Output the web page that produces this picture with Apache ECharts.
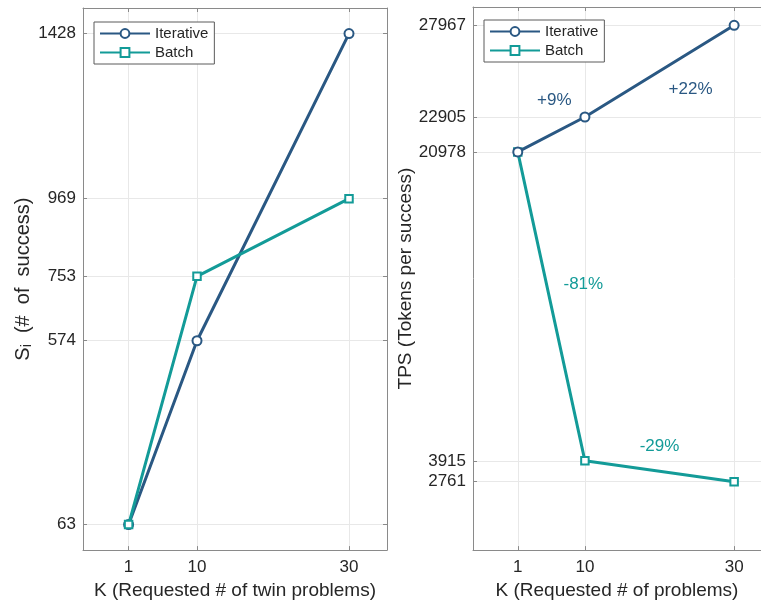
<!DOCTYPE html>
<html>
<head>
<meta charset="utf-8">
<script src="https://cdn.jsdelivr.net/npm/echarts@6/dist/echarts.min.js"></script>
<style>html,body{margin:0;padding:0;background:#fff;}#c{width:761px;height:605px;}</style>
</head>
<body>
<div id="c"></div>
<script>
// ---- data ----
const kValues = [1, 10, 30];
const successIterative = [63, 574, 1428];
const successBatch = [63, 753, 969];
const tpsIterative = [20978, 22905, 27967];
const tpsBatch = [20978, 3915, 2761];
const kTicks = [1, 10, 30];
const successTicks = [63, 574, 753, 969, 1428];
const tpsTicks = [2761, 3915, 20978, 22905, 27967];
const iterLabels = ['+9%', '+22%'];
const batchLabels = ['-81%', '-29%'];

const C_IT = '#2a5883';
const C_BA = '#139b98';
const FONT = 'Liberation Sans';
const FRAME = '#8a8a8a';
const TXT = '#262626';

function pairs(xs, ys) { return xs.map((x, i) => [x, ys[i]]); }
function mids(xs, ys) {
  const out = [];
  for (let i = 0; i < xs.length - 1; i++) out.push([(xs[i] + xs[i + 1]) / 2, (ys[i] + ys[i + 1]) / 2]);
  return out;
}
const plain = v => String(v);

function xAxes(grid, name, xmax) {
  return [{
    gridIndex: grid, type: 'value', min: -5, max: xmax, position: 'bottom',
    name: name, nameLocation: 'middle', nameGap: 30,
    nameTextStyle: { fontFamily: FONT, fontSize: 19, color: TXT },
    axisLine: { onZero: false, lineStyle: { color: FRAME, width: 1 } },
    axisTick: { inside: true, length: 4, customValues: kTicks, lineStyle: { color: FRAME } },
    axisLabel: { customValues: kTicks, formatter: plain, fontFamily: FONT, fontSize: 17, color: TXT, margin: 9 },
    splitLine: { show: true, lineStyle: { color: '#e8e8e8', width: 1 } }
  }, {
    gridIndex: grid, type: 'value', min: -5, max: xmax, position: 'top',
    axisLine: { onZero: false, lineStyle: { color: FRAME, width: 1 } },
    axisTick: { inside: true, length: 4, customValues: kTicks, lineStyle: { color: FRAME } },
    axisLabel: { show: false, customValues: kTicks },
    splitLine: { show: false }
  }];
}
function yAxes(grid, min, max, ticks, name, gap, showRight) {
  return [{
    gridIndex: grid, type: 'value', min: min, max: max, position: 'left',
    name: name, nameLocation: 'middle', nameGap: gap, nameRotate: 90,
    nameTextStyle: {
      fontFamily: FONT, fontSize: 19, color: TXT,
      rich: { s: { fontFamily: FONT, fontSize: 20, color: TXT }, sub: { fontFamily: FONT, fontSize: 14, color: TXT, verticalAlign: 'bottom', padding: [8, 0, 0, 0] } }
    },
    axisLine: { onZero: false, lineStyle: { color: FRAME, width: 1 } },
    axisTick: { inside: true, length: 4, customValues: ticks, lineStyle: { color: FRAME } },
    axisLabel: { customValues: ticks, formatter: plain, fontFamily: FONT, fontSize: 17, color: TXT, margin: 7 },
    splitLine: { show: true, lineStyle: { color: '#e8e8e8', width: 1 } }
  }, {
    gridIndex: grid, type: 'value', min: min, max: max, position: 'right', show: showRight,
    axisLine: { onZero: false, lineStyle: { color: FRAME, width: 1 } },
    axisTick: { inside: true, length: 4, customValues: ticks, lineStyle: { color: FRAME } },
    axisLabel: { show: false, customValues: ticks },
    splitLine: { show: false }
  }];
}

function lineSeries(name, color, symbol, size, xi, yi, data, z) {
  return {
    type: 'line', name: name, xAxisIndex: xi, yAxisIndex: yi, data: data,
    symbol: symbol, symbolSize: size, showSymbol: true, z: z,
    lineStyle: { color: color, width: 3 },
    itemStyle: { color: color, borderColor: color, borderWidth: 2.5 },
    emphasis: { disabled: true }, animation: false
  };
}
function annot(color, coords, labels, offsets) {
  return {
    symbol: 'circle', symbolSize: 1, silent: true, animation: false,
    itemStyle: { color: 'rgba(0,0,0,0)' },
    label: { show: true, position: 'inside', fontFamily: FONT, fontSize: 17, color: color },
    data: coords.map((c, i) => ({ coord: c, value: labels[i], label: { formatter: labels[i], offset: offsets[i] } }))
  };
}

const sIt = lineSeries('Iterative', C_IT, 'emptyCircle', 9, 0, 0, pairs(kValues, successIterative), 2);
const sBa = lineSeries('Batch', C_BA, 'emptyRect', 7.5, 0, 0, pairs(kValues, successBatch), 3);
const tBa = lineSeries('Batch', C_BA, 'emptyRect', 7.5, 2, 2, pairs(kValues, tpsBatch), 2);
const tIt = lineSeries('Iterative', C_IT, 'emptyCircle', 9, 2, 2, pairs(kValues, tpsIterative), 3);
tIt.markPoint = annot(C_IT, mids(kValues, tpsIterative), iterLabels, [[3, -34], [31, 18]]);
tBa.markPoint = annot(C_BA, mids(kValues, tpsBatch), batchLabels, [[32, -22], [0, -25]]);

function legend(left, top) {
  return {
    left: left, top: top, orient: 'vertical', data: ['Iterative', 'Batch'],
    itemWidth: 50, itemHeight: 11, itemGap: 4,
    padding: [4, 6, 4, 5], borderColor: '#5a5a5a', borderWidth: 1, backgroundColor: '#fff',
    textStyle: { fontFamily: FONT, fontSize: 15, color: TXT },
    selectedMode: false
  };
}

const chart = echarts.init(document.getElementById('c'), null, { renderer: 'canvas' });
chart.setOption({
  animation: false,
  backgroundColor: '#fff',
  grid: [
    { left: 83, right: 374, top: 8, bottom: 54 },
    { left: 473, right: 0, top: 7, bottom: 53 }
  ],
  legend: [legend(94, 22), legend(484, 20)],
  xAxis: [].concat(xAxes(0, 'K (Requested # of twin problems)', 35), xAxes(1, 'K (Requested # of problems)', 33.6)),
  yAxis: [].concat(
    yAxes(0, -8, 1499, successTicks, '{s|S}{sub|i}{s|  (#  of  success)}', 42, true),
    yAxes(1, -1014, 28980, tpsTicks, 'TPS (Tokens per success)', 51, false)
  ),
  series: [sIt, sBa, tBa, tIt]
});
</script>
</body>
</html>
